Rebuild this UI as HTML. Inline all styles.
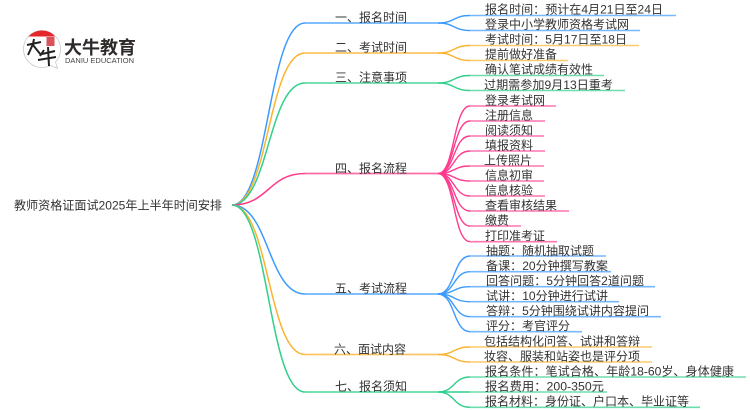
<!DOCTYPE html>
<html lang="zh">
<head>
<meta charset="utf-8">
<style>
html,body{margin:0;padding:0;background:#fff;width:750px;height:410px;overflow:hidden}
svg{display:block}
text{font-family:"WenQuanYi Zen Hei","Liberation Sans","Noto Sans CJK SC",sans-serif;font-size:12px;fill:#333}
.b{fill:none;stroke-width:1.5}
.l{fill:none;stroke-width:1.4}
.h{fill:none;stroke-width:1.8;stroke-opacity:.75}
.u{fill:none;stroke-width:1.6;stroke-opacity:.7}
.blue{stroke:#3d9bfd}.or{stroke:#fbb32f}.gr{stroke:#30cf8b}.pk{stroke:#ff3b8e}
</style>
</head>
<body>
<svg width="750" height="410" viewBox="0 0 750 410" xmlns="http://www.w3.org/2000/svg">
<rect width="750" height="410" fill="#fff"/>

<!-- logo -->
<path d="M42 30.500C31.500 30.500 23.500 39 23.500 49C23.500 59.500 32 67.500 42 67.500C46 67.500 49 66.500 51 65.500L57.500 68.500L55.500 62C59 58.500 60.500 54 60.500 49C60.500 39 52.500 30.500 42 30.500Z" fill="#fff" stroke="#c9c9c9" stroke-width="0.8"/>
<path d="M28.500 36.500C32 32.500 37 30.500 42 30.500C47 30.500 52 32.500 55 36.500Z" fill="#e5262a"/>
<rect x="46.500" y="37" width="8" height="9" fill="#d9535a"/>
<path d="M34 39L33 44L28 55M27 45L41 42M33 45L41 55" fill="none" stroke="#222" stroke-width="2"/>
<path d="M44 50L40 56M42 54L55 51M48 47L49 66M38 60L56 57" fill="none" stroke="#222" stroke-width="2"/>
<text x="64" y="54" textLength="72" lengthAdjust="spacingAndGlyphs" style="font-family:'Noto Sans CJK SC',sans-serif;font-size:18px;font-weight:bold;fill:#2e2a2a">大牛教育</text>
<text x="65" y="63" textLength="69" lengthAdjust="spacingAndGlyphs" style="font-family:'Liberation Sans',sans-serif;font-size:7.500px;fill:#444">DANIU EDUCATION</text>

<!-- root to branches -->
<path class="b blue" d="M232 205C269 205 268 23 305 23"/>
<path class="b or" d="M232 205C269 205 268 53 305 53"/>
<path class="b gr" d="M232 205C269 205 268 83 305 83"/>
<path class="b pk" d="M232 205C269 205 268 173.500 305 173.500"/>
<path class="b blue" d="M232 205C269 205 268 294 305 294"/>
<path class="b or" d="M232 205C269 205 268 354.500 305 354.500"/>
<path class="b gr" d="M232 205C269 205 268 392 305 392"/>

<!-- branch lines -->
<path class="h blue" d="M305 23H438"/>
<path class="h or" d="M305 53H438"/>
<path class="h gr" d="M305 83H438"/>
<path class="h pk" d="M305 173.500H438"/>
<path class="h blue" d="M305 294H438"/>
<path class="h or" d="M305 354.500H438"/>
<path class="h gr" d="M305 392H438"/>

<!-- leaf curves -->
<g class="blue">
<path class="l" d="M438 23C455 23 453 15.500 470 15.500"/>
<path class="l" d="M438 23C455 23 453 30.500 470 30.500"/>
</g>
<g class="or">
<path class="l" d="M438 53C455 53 453 45.500 470 45.500"/>
<path class="l" d="M438 53C455 53 453 60.500 470 60.500"/>
</g>
<g class="gr">
<path class="l" d="M438 83C455 83 453 75.500 470 75.500"/>
<path class="l" d="M438 83C455 83 453 90.500 470 90.500"/>
</g>
<g class="pk">
<path class="l" d="M438 173.500C455 173.500 453 106 470 106"/>
<path class="l" d="M438 173.500C455 173.500 453 121 470 121"/>
<path class="l" d="M438 173.500C455 173.500 453 136 470 136"/>
<path class="l" d="M438 173.500C455 173.500 453 151 470 151"/>
<path class="l" d="M438 173.500C455 173.500 453 166 470 166"/>
<path class="l" d="M438 173.500C455 173.500 453 181 470 181"/>
<path class="l" d="M438 173.500C455 173.500 453 196 470 196"/>
<path class="l" d="M438 173.500C455 173.500 453 211 470 211"/>
<path class="l" d="M438 173.500C455 173.500 453 226 470 226"/>
<path class="l" d="M438 173.500C455 173.500 453 241.700 470 241.700"/>
</g>
<g class="blue">
<path class="l" d="M438 294C455 294 453 256 470 256"/>
<path class="l" d="M438 294C455 294 453 271.700 470 271.700"/>
<path class="l" d="M438 294C455 294 453 286.700 470 286.700"/>
<path class="l" d="M438 294C455 294 453 301.700 470 301.700"/>
<path class="l" d="M438 294C455 294 453 316.700 470 316.700"/>
<path class="l" d="M438 294C455 294 453 331.700 470 331.700"/>
</g>
<g class="or">
<path class="l" d="M438 354.500C455 354.500 453 347 470 347"/>
<path class="l" d="M438 354.500C455 354.500 453 362 470 362"/>
</g>
<g class="gr">
<path class="l" d="M438 392C455 392 453 377 470 377"/>
<path class="l" d="M438 392H470"/>
<path class="l" d="M438 392C455 392 453 407.300 470 407.300"/>
</g>

<!-- leaf underlines -->
<path class="u blue" d="M470 15.500H676"/>
<path class="u blue" d="M470 30.500H640"/>
<path class="u or" d="M470 45.500H639"/>
<path class="u or" d="M470 60.500H568"/>
<path class="u gr" d="M470 75.500H604"/>
<path class="u gr" d="M470 90.500H625"/>
<path class="u pk" d="M470 106H556"/>
<path class="u pk" d="M470 121H545"/>
<path class="u pk" d="M470 136H544"/>
<path class="u pk" d="M470 151H545"/>
<path class="u pk" d="M470 166H544"/>
<path class="u pk" d="M470 181H544"/>
<path class="u pk" d="M470 196H545"/>
<path class="u pk" d="M470 211H569"/>
<path class="u pk" d="M470 226H521"/>
<path class="u pk" d="M470 241.700H557"/>
<path class="u blue" d="M470 256H606"/>
<path class="u blue" d="M470 271.700H611"/>
<path class="u blue" d="M470 286.700H655"/>
<path class="u blue" d="M470 301.700H619"/>
<path class="u blue" d="M470 316.700H661"/>
<path class="u blue" d="M470 331.700H582"/>
<path class="u or" d="M470 347H652"/>
<path class="u or" d="M470 362H652"/>
<path class="u gr" d="M470 377H746"/>
<path class="u gr" d="M470 392H607"/>
<path class="u gr" d="M470 407.300H700"/>

<!-- root label -->
<text x="14" y="209.500" textLength="208" lengthAdjust="spacingAndGlyphs">教师资格证面试2025年上半年时间安排</text>

<!-- branch labels -->
<text x="335" y="21.500" textLength="72" lengthAdjust="spacingAndGlyphs">一、报名时间</text>
<text x="335" y="51.500" textLength="72" lengthAdjust="spacingAndGlyphs">二、考试时间</text>
<text x="335" y="81.500" textLength="72" lengthAdjust="spacingAndGlyphs">三、注意事项</text>
<text x="335" y="172.500" textLength="72" lengthAdjust="spacingAndGlyphs">四、报名流程</text>
<text x="335" y="292.500" textLength="72" lengthAdjust="spacingAndGlyphs">五、考试流程</text>
<text x="334" y="353.500" textLength="72" lengthAdjust="spacingAndGlyphs">六、面试内容</text>
<text x="335" y="390.500" textLength="72" lengthAdjust="spacingAndGlyphs">七、报名须知</text>

<!-- leaf labels -->
<text x="485" y="13.500" textLength="178" lengthAdjust="spacingAndGlyphs">报名时间：预计在4月21日至24日</text>
<text x="485" y="28.500" textLength="144" lengthAdjust="spacingAndGlyphs">登录中小学教师资格考试网</text>
<text x="485" y="43.500" textLength="142" lengthAdjust="spacingAndGlyphs">考试时间：5月17日至18日</text>
<text x="485" y="58.500" textLength="72" lengthAdjust="spacingAndGlyphs">提前做好准备</text>
<text x="485" y="73.500" textLength="108" lengthAdjust="spacingAndGlyphs">确认笔试成绩有效性</text>
<text x="484" y="89" textLength="129" lengthAdjust="spacingAndGlyphs">过期需参加9月13日重考</text>
<text x="485" y="104.500" textLength="60" lengthAdjust="spacingAndGlyphs">登录考试网</text>
<text x="485" y="119.500" textLength="48" lengthAdjust="spacingAndGlyphs">注册信息</text>
<text x="485" y="134.500" textLength="48" lengthAdjust="spacingAndGlyphs">阅读须知</text>
<text x="485" y="149.500" textLength="48" lengthAdjust="spacingAndGlyphs">填报资料</text>
<text x="484" y="164.500" textLength="48" lengthAdjust="spacingAndGlyphs">上传照片</text>
<text x="485" y="179.500" textLength="48" lengthAdjust="spacingAndGlyphs">信息初审</text>
<text x="485" y="194.500" textLength="48" lengthAdjust="spacingAndGlyphs">信息核验</text>
<text x="485" y="209.500" textLength="72" lengthAdjust="spacingAndGlyphs">查看审核结果</text>
<text x="485" y="224.500" textLength="24" lengthAdjust="spacingAndGlyphs">缴费</text>
<text x="485" y="240" textLength="60" lengthAdjust="spacingAndGlyphs">打印准考证</text>
<text x="486" y="255" textLength="108" lengthAdjust="spacingAndGlyphs">抽题：随机抽取试题</text>
<text x="486" y="270" textLength="122" lengthAdjust="spacingAndGlyphs">备课：20分钟撰写教案</text>
<text x="486" y="285" textLength="158" lengthAdjust="spacingAndGlyphs">回答问题：5分钟回答2道问题</text>
<text x="486" y="300" textLength="122" lengthAdjust="spacingAndGlyphs">试讲：10分钟进行试讲</text>
<text x="486" y="315" textLength="163" lengthAdjust="spacingAndGlyphs">答辩：5分钟围绕试讲内容提问</text>
<text x="486" y="330" textLength="84" lengthAdjust="spacingAndGlyphs">评分：考官评分</text>
<text x="484" y="345.500" textLength="156" lengthAdjust="spacingAndGlyphs">包括结构化问答、试讲和答辩</text>
<text x="484" y="360.500" textLength="156" lengthAdjust="spacingAndGlyphs">妆容、服装和站姿也是评分项</text>
<text x="485" y="375.500" textLength="249" lengthAdjust="spacingAndGlyphs">报名条件：笔试合格、年龄18-60岁、身体健康</text>
<text x="485" y="390.500" textLength="119" lengthAdjust="spacingAndGlyphs">报名费用：200-350元</text>
<text x="485" y="405.500" textLength="204" lengthAdjust="spacingAndGlyphs">报名材料：身份证、户口本、毕业证等</text>
</svg>
</body>
</html>
